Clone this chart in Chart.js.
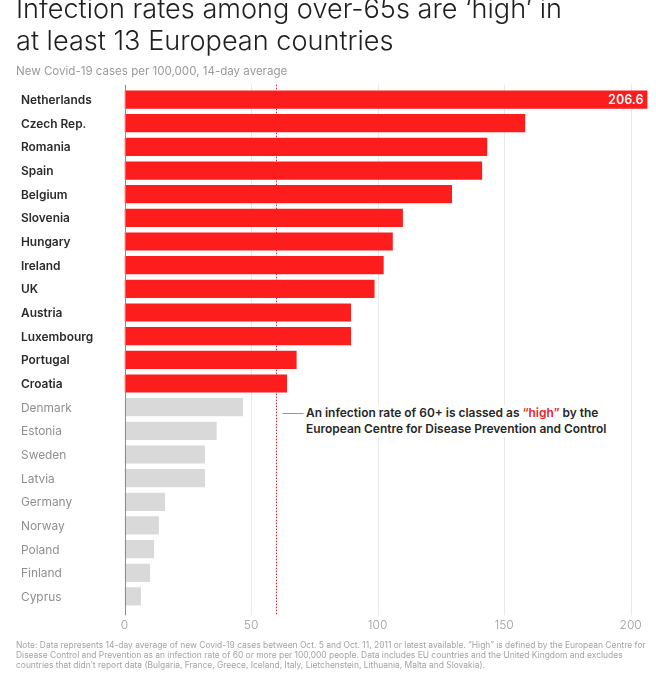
<!DOCTYPE html>
<html>
<head>
<meta charset="utf-8">
<script src="https://cdn.jsdelivr.net/npm/chart.js@4/dist/chart.umd.min.js"></script>
<style>
    html, body { margin: 0; padding: 0; background: #fff; }
    #wrap { position: relative; width: 656px; height: 680px; overflow: hidden; font-family: Inter, sans-serif; }
    #myChart { position: absolute; left: 0; top: 0; }
    .txt { position: absolute; white-space: nowrap; }
    #title { left: 16px; top: -7px; font-size: 27.1px; font-weight: 300; line-height: 31.5px; color: #1f1f1f; }
    #sub { left: 16px; top: 64px; font-size: 11.55px; color: #9a9a9a; line-height: 15px; }
    #note { left: 306px; top: 405px; font-size: 11.95px; font-weight: 600; line-height: 16px; color: #262626; background: #fff; padding: 0 6px 0 0; }
    #note b { color: #e5262a; font-weight: 600; }
    #foot { left: 16px; top: 640px; font-size: 8.45px; line-height: 10.2px; color: #a3a3a3; }
</style>
</head>
<body>
<div id="wrap">
    <canvas id="myChart" width="656" height="680"></canvas>
    <div class="txt" id="title">Infection rates among over-65s are ‘high’ in<br>at least 13 European countries</div>
    <div class="txt" id="sub">New Covid-19 cases per 100,000, 14-day average</div>
    <div class="txt" id="note">An infection rate of 60+ is classed as <b>“high”</b> by the<br>European Centre for Disease Prevention and Control</div>
    <div class="txt" id="foot">Note: Data represents 14-day average of new Covid-19 cases between Oct. 5 and Oct. 11, 2011 or latest available. “High” is defined by the European Centre for<br>Disease Control and Prevention as an infection rate of 60 or more per 100,000 people. Data includes EU countries and the United Kingdom and excludes<br>countries that didn’t report data (Bulgaria, France, Greece, Iceland, Italy, Lietchenstein, Lithuania, Malta and Slovakia).</div>
</div>
<script>
var countries = ['Netherlands', 'Czech Rep.', 'Romania', 'Spain', 'Belgium', 'Slovenia', 'Hungary', 'Ireland', 'UK', 'Austria', 'Luxembourg', 'Portugal', 'Croatia', 'Denmark', 'Estonia', 'Sweden', 'Latvia', 'Germany', 'Norway', 'Poland', 'Finland', 'Cyprus'];
var rates = [206.6, 158.3, 143.3, 141.3, 129.4, 110, 106, 102.4, 98.8, 89.5, 89.5, 68, 64.2, 46.8, 36.4, 31.8, 31.8, 16, 13.6, 11.7, 10.1, 6.5];
var xTicks = [0, 50, 100, 150, 200];
var threshold = 60;

var RED = '#fd1d1d';
var GREY = '#d9d9d9';

function isHigh(v) {
    return v >= threshold;
}

// grid and the dotted threshold go under the bars, zero line and labels on top
var extras = {
    id: 'extras',
    beforeDatasetsDraw: function (chart) {
        var ctx = chart.ctx, x = chart.scales.x, area = chart.chartArea;
        ctx.save();
        ctx.lineWidth = 1;
        ctx.strokeStyle = '#e8e8e8';
        xTicks.forEach(function (t) {
            if (t === 0) return;
            var px = Math.round(x.getPixelForValue(t)) + 0.5;
            ctx.beginPath();
            ctx.moveTo(px, area.top - 3);
            ctx.lineTo(px, area.bottom + 7);
            ctx.stroke();
        });
        // threshold
        var px60 = Math.round(x.getPixelForValue(threshold)) + 0.5;
        ctx.strokeStyle = '#c2222c';
        ctx.setLineDash([1.5, 1.5]);
        ctx.beginPath();
        ctx.moveTo(px60, area.top - 3);
        ctx.lineTo(px60, area.bottom + 7);
        ctx.stroke();
        ctx.setLineDash([]);
        // leader to the note
        ctx.strokeStyle = '#999999';
        ctx.beginPath();
        ctx.moveTo(px60 + 6, 413.5);
        ctx.lineTo(px60 + 27, 413.5);
        ctx.stroke();
        ctx.restore();
    },
    afterDatasetsDraw: function (chart) {
        var ctx = chart.ctx, x = chart.scales.x, area = chart.chartArea;
        ctx.save();
        // zero line
        ctx.strokeStyle = '#8c8c8c';
        ctx.lineWidth = 1;
        var zero = Math.round(x.getPixelForValue(0)) + 0.5;
        ctx.beginPath();
        ctx.moveTo(zero, area.top - 3);
        ctx.lineTo(zero, area.bottom + 7);
        ctx.stroke();
        // value on the first bar
        var bar = chart.getDatasetMeta(0).data[0];
        ctx.fillStyle = '#ffffff';
        ctx.font = '600 12.5px Inter, sans-serif';
        ctx.textAlign = 'right';
        ctx.textBaseline = 'middle';
        ctx.fillText(rates[0].toFixed(1), bar.x - 4, bar.y + 0.5);
        ctx.restore();
    }
};

window.onload = function () {
    new Chart(document.getElementById('myChart'), {
        type: 'bar',
        plugins: [extras],
        data: {
            labels: countries,
            datasets: [{
                data: rates,
                backgroundColor: rates.map(function (v) { return isHigh(v) ? RED : GREY; }),
                borderWidth: 0,
                categoryPercentage: 1,
                barPercentage: 0.77
            }]
        },
        options: {
            indexAxis: 'y',
            responsive: false,
            animation: false,
            layout: { padding: { left: 21, top: 87.7, right: 0, bottom: 0 } },
            plugins: { legend: { display: false }, tooltip: { enabled: false } },
            scales: {
                x: {
                    min: 0,
                    max: 210,
                    border: { display: false },
                    grid: { display: false },
                    afterFit: function (scale) { scale.height = 71.7; },
                    ticks: {
                        stepSize: 50,
                        includeBounds: false,
                        maxRotation: 0,
                        padding: 2,
                        color: '#9a9a9a',
                        font: { family: 'Inter, sans-serif', size: 12, weight: '300' }
                    }
                },
                y: {
                    border: { display: false },
                    grid: { display: false },
                    afterFit: function (scale) { scale.width = 103.5; },
                    ticks: {
                        crossAlign: 'far',
                        autoSkip: false,
                        padding: 0,
                        labelOffset: 1,
                        color: function (c) { return isHigh(rates[c.index]) ? '#2b2b2b' : '#8f8f8f'; },
                        font: function (c) {
                            return { family: 'Inter, sans-serif', size: 11.9, weight: isHigh(rates[c.index]) ? '600' : '400' };
                        }
                    }
                }
            }
        }
    });
};
</script>
</body>
</html>
